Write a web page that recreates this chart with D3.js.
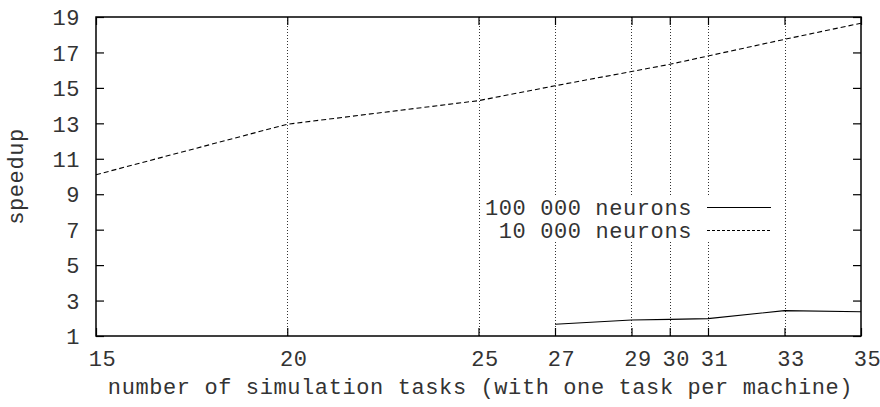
<!DOCTYPE html>
<html>
<head>
<meta charset="utf-8">
<script src="https://cdn.jsdelivr.net/npm/d3@7"></script>
<style>
  body { margin: 0; background: #fff; }
  text { font-family: "Liberation Mono", "Courier New", monospace; font-size: 22px; letter-spacing: 0.6px; fill: #333; }
</style>
</head>
<body>
<svg id="chart" width="880" height="407"></svg>
<script>
const tasks10k = [15, 20, 25, 27, 29, 30, 31, 33, 35];
const speedup10k = [10.1, 12.95, 14.28, 15.12, 15.92, 16.33, 16.8, 17.74, 18.65];
const tasks100k = [27, 29, 30, 31, 33, 35];
const speedup100k = [1.66, 1.9, 1.94, 1.98, 2.43, 2.37];
const xTicks = [15, 20, 25, 27, 29, 30, 31, 33, 35];
const yTicks = [1, 3, 5, 7, 9, 11, 13, 15, 17, 19];
const seriesNames = ["100 000 neurons", "10 000 neurons"];

const svg = d3.select("#chart");
const m = { left: 96, right: 861, top: 17, bottom: 336 };

const x = d3.scaleLinear().domain([15, 35]).range([m.left, m.right]);
const y = d3.scaleLinear().domain([1, 19]).range([m.bottom, m.top]);

// vertical dotted grid
svg.append("g")
  .selectAll("line")
  .data(xTicks.filter(d => d > 15 && d < 35))
  .join("line")
  .attr("x1", d => Math.round(x(d)) + 0.5)
  .attr("x2", d => Math.round(x(d)) + 0.5)
  .attr("y1", m.top)
  .attr("y2", m.bottom)
  .attr("stroke", "#333")
  .attr("stroke-width", 1)
  .attr("stroke-dasharray", "1,2");

// ticks, inward on all four sides
const tk = 8;
const axB = svg.append("g").attr("transform", `translate(0,${m.bottom})`)
  .call(d3.axisBottom(x).tickValues(xTicks).tickSize(-tk).tickFormat(d3.format("d")));
const axT = svg.append("g").attr("transform", `translate(0,${m.top})`)
  .call(d3.axisTop(x).tickValues(xTicks).tickSize(-tk).tickFormat(""));
const axL = svg.append("g").attr("transform", `translate(${m.left},0)`)
  .call(d3.axisLeft(y).tickValues(yTicks).tickSize(-tk).tickPadding(16).tickFormat(d3.format("d")));
const axR = svg.append("g").attr("transform", `translate(${m.right},0)`)
  .call(d3.axisRight(y).tickValues(yTicks).tickSize(-tk).tickFormat(""));

[axB, axT, axL, axR].forEach(a => {
  a.select(".domain").remove();
  a.selectAll("line").attr("stroke", "#000").attr("stroke-width", 1.2);
  a.selectAll("text").attr("font-family", null).attr("font-size", null).attr("fill", null);
});
axB.selectAll("text").attr("y", 30).attr("dy", 0).attr("dx", 6);
axL.selectAll("text").attr("dy", "0.35em");

// legend background (breaks the grid lines)
svg.append("rect")
  .attr("x", 483).attr("y", 195).attr("width", 293).attr("height", 47)
  .attr("fill", "#fff");

// data lines
const line = d3.line().x(d => x(d[0])).y(d => y(d[1]));
svg.append("path")
  .datum(d3.zip(tasks10k, speedup10k))
  .attr("d", line)
  .attr("fill", "none")
  .attr("stroke", "#000")
  .attr("stroke-width", 1.1)
  .attr("stroke-dasharray", "5,3");
svg.append("path")
  .datum(d3.zip(tasks100k, speedup100k))
  .attr("d", line)
  .attr("fill", "none")
  .attr("stroke", "#000")
  .attr("stroke-width", 1.1);

// frame
svg.append("rect")
  .attr("x", m.left).attr("y", m.top)
  .attr("width", m.right - m.left).attr("height", m.bottom - m.top)
  .attr("fill", "none").attr("stroke", "#000").attr("stroke-width", 1.5);

// legend
const leg = svg.append("g");
seriesNames.forEach((name, i) => {
  const ly = 207 + i * 23;
  leg.append("text")
    .attr("x", 692).attr("y", ly).attr("dy", "0.35em")
    .attr("text-anchor", "end")
    .text(name);
  leg.append("line")
    .attr("x1", 707).attr("x2", 771)
    .attr("y1", ly + 0.5).attr("y2", ly + 0.5)
    .attr("stroke", "#000").attr("stroke-width", 1)
    .attr("stroke-dasharray", i === 1 ? "3,2" : null);
});

// axis titles
svg.append("text")
  .attr("x", (m.left + m.right) / 2 + 2).attr("y", 394)
  .attr("text-anchor", "middle")
  .text("number of simulation tasks (with one task per machine)");
svg.append("text")
  .attr("transform", `translate(23,${(m.top + m.bottom) / 2}) rotate(-90)`)
  .attr("text-anchor", "middle")
  .text("speedup");
</script>
</body>
</html>
